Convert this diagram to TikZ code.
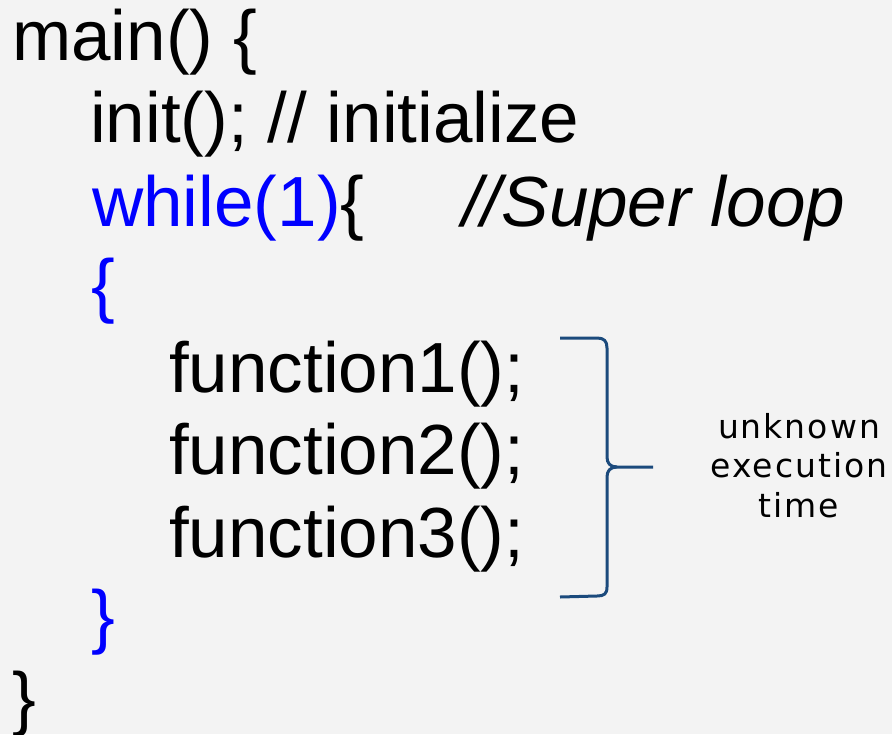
\documentclass[tikz,border=0pt]{standalone}
\usepackage{fontspec}
\setmainfont{Liberation Sans}
\newfontfamily\notefont[LetterSpace=6]{DejaVu Sans}
\definecolor{pagebg}{HTML}{F3F3F3}
\definecolor{kwblue}{HTML}{0000FF}
\definecolor{bracecol}{HTML}{1B4A7C}
\begin{document}
\begin{tikzpicture}[x=1pt,y=-1pt,
  code/.style={anchor=base west,inner sep=0pt,font=\fontsize{71}{83}\selectfont},
  note/.style={anchor=base,inner sep=0pt,font=\notefont\fontsize{33}{40}\selectfont}]
  % page and bounds
  \fill[pagebg] (0,0) rectangle (892,734);
  \useasboundingbox (0,0) rectangle (892,734);

  % source lines
  \node[code] (mainline) at (12,60) {main() \{};
  \node[code] (initline) at (90,142) {init(); // initialize};
  \node[code] (whileline) at (92,226) {\textcolor{kwblue}{while(1)}\{};
  \node[code] (comment) at (462,226) {\itshape //Super loop};
  \node[code,text=kwblue] (openloop) at (91,309) {\{};
  \node[code] (fone) at (169,392) {function1();};
  \node[code] (ftwo) at (169,474) {function2();};
  \node[code] (fthree) at (169,557) {function3();};
  \node[code,text=kwblue] (closeloop) at (91,640) {\}};
  \node[code] (closemain) at (12,722) {\}};

  % brace around the three calls
  \draw[bracecol,line width=3pt,line join=round]
    (560,338) -- (597,338) .. controls (604,338) and (607,341) .. (607,348)
    -- (607,457) .. controls (607,463) and (610,467) .. (617,467) -- (653,467);
  \draw[bracecol,line width=3pt,line join=round]
    (617,467) .. controls (610,467) and (607,471) .. (607,477)
    -- (607,587) .. controls (607,594) and (604,596) .. (597,596) -- (560,597);

  % label
  \node[note] (lblA) at (799,438) {unknown};
  \node[note] (lblB) at (799,477) {execution};
  \node[note] (lblC) at (799,517) {time};
\end{tikzpicture}
\end{document}
